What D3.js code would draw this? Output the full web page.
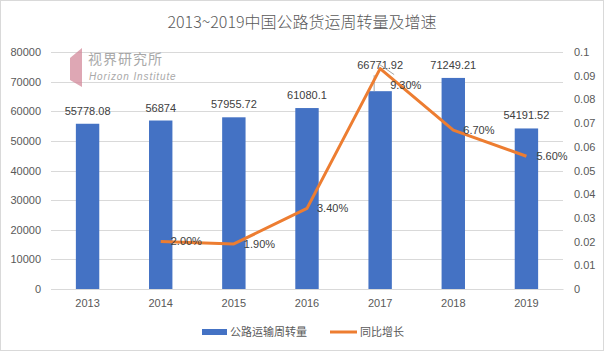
<!DOCTYPE html>
<html>
<head>
<meta charset="utf-8">
<script src="https://cdn.jsdelivr.net/npm/d3@7"></script>
<style>
  body { margin: 0; background: #fff; }
  text { font-family: "Liberation Sans", "Noto Sans CJK SC", sans-serif; }
</style>
</head>
<body>
<div id="chart"></div>
<script>
const width = 604;
const height = 351;

// data
const years = ["2013", "2014", "2015", "2016", "2017", "2018", "2019"];
const volume = [55778.08, 56874, 57955.72, 61080.1, 66771.92, 71249.21, 54191.52];
const growth = [null, 0.02, 0.019, 0.034, 0.093, 0.067, 0.056];
const leftTicks = [0, 10000, 20000, 30000, 40000, 50000, 60000, 70000, 80000];
const rightTicks = [0, 0.01, 0.02, 0.03, 0.04, 0.05, 0.06, 0.07, 0.08, 0.09, 0.1];

const blue = "#4472C4";
const orange = "#ED7D31";
const grey = "#595959";

const margin = {top: 52, right: 41, bottom: 62, left: 51};

const svg = d3.select("#chart")
  .append("svg")
  .attr("width", width)
  .attr("height", height)

svg.append("rect")
  .attr("x", 0.5).attr("y", 0.5)
  .attr("width", width - 1).attr("height", height - 1)
  .attr("fill", "#fff")
  .attr("stroke", "#D9D9D9")

const x = d3.scaleBand()
  .domain(years)
  .range([margin.left, width - margin.right])
  .paddingInner(0.68)
  .paddingOuter(0.34)

const y = d3.scaleLinear()
  .domain([0, 80000])
  .range([height - margin.bottom, margin.top])

const y2 = d3.scaleLinear()
  .domain([0, 0.1])
  .range([height - margin.bottom, margin.top])

// title
svg.append("text")
  .attr("x", width / 2)
  .attr("y", 28)
  .attr("text-anchor", "middle")
  .style("font-family", "'Noto Sans CJK SC', sans-serif")
  .style("font-size", "16px")
  .style("font-weight", 300)
  .attr("fill", grey)
  .text("2013~2019中国公路货运周转量及增速")

// gridlines
svg.append("g")
  .selectAll("line")
  .data(leftTicks)
  .join("line")
    .attr("x1", margin.left)
    .attr("x2", width - margin.right)
    .attr("y1", d => Math.round(y(d)) + 0.5)
    .attr("y2", d => Math.round(y(d)) + 0.5)
    .attr("stroke", "#D9D9D9")

// watermark logo
const logo = svg.append("g").attr("opacity", 0.75)
logo.append("path")
  .attr("d", "M70,58 L82,48 L82,87 L70,80 Z")
  .attr("fill", "#D48A9B")
logo.append("text")
  .attr("x", 88).attr("y", 64)
  .style("font-family", "'Noto Sans CJK SC', sans-serif")
  .style("font-size", "14px")
  .attr("letter-spacing", "1px")
  .attr("fill", "#8C8C8C")
  .text("视界研究所")
logo.append("text")
  .attr("x", 89).attr("y", 80)
  .style("font-size", "10px")
  .style("font-style", "italic")
  .attr("letter-spacing", "0.9px")
  .attr("fill", "#8C8C8C")
  .text("Horizon Institute")

// left axis
const yAxis = svg.append("g")
  .attr("transform", `translate(${margin.left - 10},0)`)
  .call(d3.axisLeft(y).tickValues(leftTicks).tickSize(0).tickPadding(0).tickFormat(d3.format("d")))
yAxis.select(".domain").remove()
yAxis.selectAll("text").attr("fill", grey).style("font-size", "11px")

// right axis
const y2Axis = svg.append("g")
  .attr("transform", `translate(${width - margin.right + 11},0)`)
  .call(d3.axisRight(y2).tickValues(rightTicks).tickSize(0).tickPadding(0).tickFormat(d => String(+d.toFixed(2))))
y2Axis.select(".domain").remove()
y2Axis.selectAll("text").attr("fill", grey).style("font-size", "11px")

// bottom axis
const xAxis = svg.append("g")
  .attr("transform", `translate(0,${height - margin.bottom})`)
  .call(d3.axisBottom(x).tickSize(0).tickPadding(10))
xAxis.select(".domain").attr("stroke", "#D9D9D9")
xAxis.selectAll("text").attr("fill", grey).style("font-size", "11px")

// bars
svg.append("g")
  .selectAll("rect")
  .data(volume)
  .join("rect")
    .attr("x", (d, i) => x(years[i]))
    .attr("width", x.bandwidth())
    .attr("y", d => y(d))
    .attr("height", d => y(0) - y(d))
    .attr("fill", blue)

// bar labels (2017 one was pushed up in the original)
svg.append("g")
  .selectAll("text")
  .data(volume)
  .join("text")
    .attr("x", (d, i) => x(years[i]) + x.bandwidth() / 2)
    .attr("y", (d, i) => i === 4 ? y(d) - 22 : y(d) - 9)
    .attr("text-anchor", "middle")
    .attr("fill", "#404040")
    .style("font-size", "11px")
    .text(d => d)

// leader lines near 2017
const p17 = x("2017") + x.bandwidth() / 2;
svg.append("line")
  .attr("x1", p17 - 6).attr("x2", p17 - 6)
  .attr("y1", y(volume[4]) - 16).attr("y2", y(volume[4]))
  .attr("stroke", "#A6A6A6")
svg.append("line")
  .attr("x1", p17 - 2).attr("x2", p17 + 14)
  .attr("y1", y2(growth[4]) - 5).attr("y2", y2(growth[4]) + 6)
  .attr("stroke", "#A6A6A6")

// growth line
const pts = growth.map((g, i) => ({year: years[i], g})).filter(d => d.g !== null);

svg.append("path")
  .datum(pts)
  .attr("fill", "none")
  .attr("stroke", orange)
  .attr("stroke-width", 3)
  .attr("stroke-linejoin", "round")
  .attr("d", d3.line()
    .x(d => x(d.year) + x.bandwidth() / 2)
    .y(d => y2(d.g)))

svg.append("g")
  .selectAll("text")
  .data(pts)
  .join("text")
    .attr("x", d => x(d.year) + x.bandwidth() / 2 + 10)
    .attr("y", d => d.year === "2017" ? y2(d.g) + 17 : y2(d.g))
    .attr("dy", "0.35em")
    .attr("fill", "#404040")
    .style("font-size", "11px")
    .text(d => (d.g * 100).toFixed(2) + "%")

// legend
const legend = svg.append("g")
legend.append("rect")
  .attr("x", 202).attr("y", 329)
  .attr("width", 25).attr("height", 6)
  .attr("fill", blue)
legend.append("text")
  .attr("x", 230).attr("y", 332)
  .attr("dy", "0.35em")
  .style("font-family", "'Noto Sans CJK SC', sans-serif")
  .style("font-size", "11px")
  .attr("fill", grey)
  .text("公路运输周转量")
legend.append("line")
  .attr("x1", 330).attr("x2", 357)
  .attr("y1", 332).attr("y2", 332)
  .attr("stroke", orange)
  .attr("stroke-width", 3)
legend.append("text")
  .attr("x", 360).attr("y", 332)
  .attr("dy", "0.35em")
  .style("font-family", "'Noto Sans CJK SC', sans-serif")
  .style("font-size", "11px")
  .attr("fill", grey)
  .text("同比增长")
</script>
</body>
</html>
